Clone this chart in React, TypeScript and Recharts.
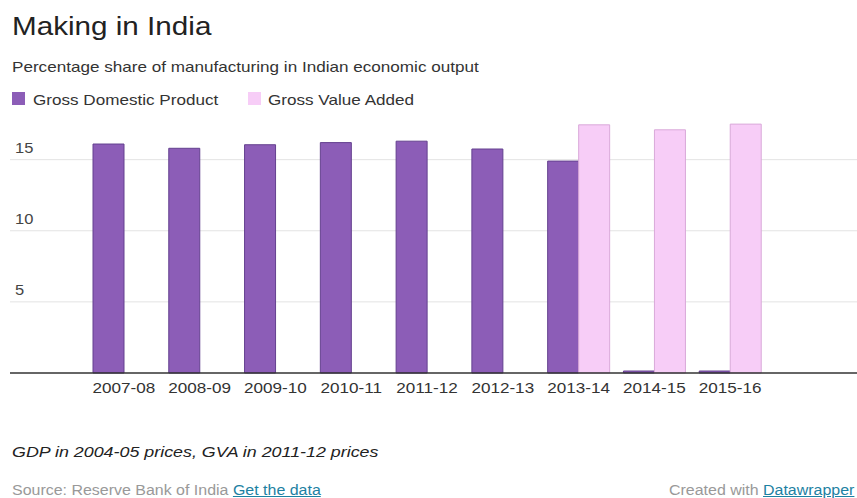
import React from 'react';
import { BarChart, Bar, XAxis, YAxis, CartesianGrid } from 'recharts';

const categories = ['2007-08', '2008-09', '2009-10', '2010-11', '2011-12', '2012-13', '2013-14', '2014-15', '2015-16'];
const gdpValues: (number | null)[] = [16.1, 15.8, 16.05, 16.2, 16.3, 15.75, 14.9, 0, 0];
const gvaValues: (number | null)[] = [null, null, null, null, null, null, 17.45, 17.1, 17.5];
const yTicks = [5, 10, 15];

const title = 'Making in India';
const subtitle = 'Percentage share of manufacturing in Indian economic output';
const gdpLabel = 'Gross Domestic Product';
const gvaLabel = 'Gross Value Added';
const note = 'GDP in 2004-05 prices, GVA in 2011-12 prices';

const data = categories.map((c, i) => ({ year: c, gdp: gdpValues[i], gva: gvaValues[i] }));

const FONT = '"Liberation Sans", Arial, Helvetica, sans-serif';
const SX = 1.14;
const GDP_FILL = '#8c5db7';
const GDP_STROKE = '#64408f';
const GVA_FILL = '#f7cdf7';
const GVA_STROKE = '#d9a9d9';

const txt = (left: number, top: number, size: number, color: string, extra: React.CSSProperties = {}): React.CSSProperties => ({
  position: 'absolute',
  left,
  top,
  fontSize: size,
  lineHeight: 1,
  color,
  whiteSpace: 'nowrap',
  transform: `scaleX(${SX})`,
  transformOrigin: 'left top',
  fontFamily: FONT,
  ...extra,
});

const XTick = (props: any) => {
  const { x, y, payload } = props;
  return (
    <text
      x={x}
      y={y + 12}
      textAnchor="middle"
      fontSize={15}
      fill="#333"
      fontFamily={FONT}
      transform={`translate(${x},0) scale(${SX},1) translate(${-x},0)`}
    >
      {payload.value}
    </text>
  );
};

const YTick = (props: any) => {
  const { x, y, payload } = props;
  const tx = x + 5;
  return (
    <text
      x={tx}
      y={y - 7}
      textAnchor="start"
      fontSize={15}
      fill="#444"
      fontFamily={FONT}
      transform={`translate(${tx},0) scale(1.1,1) translate(${-tx},0)`}
    >
      {payload.value}
    </text>
  );
};

export default function App() {
  return (
    <div style={{ position: 'absolute', left: 0, top: 0, width: 857, height: 498, background: '#fff', overflow: 'hidden', fontFamily: FONT }}>
      <div style={{ position: 'absolute', left: 0, top: 0 }}>
        <BarChart
          width={857}
          height={400}
          data={data}
          margin={{ top: 117, right: 0, bottom: 2, left: 10 }}
          barCategoryGap={7}
          barGap={0}
        >
          <CartesianGrid vertical={false} stroke="#e3e3e3" strokeWidth={1} horizontalValues={yTicks} />
          <XAxis
            dataKey="year"
            height={25}
            padding={{ left: 76, right: 89 }}
            axisLine={{ stroke: '#333', strokeWidth: 1.5 }}
            tickLine={false}
            tick={<XTick />}
            interval={0}
          />
          <YAxis
            mirror
            width={40}
            domain={[0, 18]}
            ticks={yTicks}
            interval={0}
            axisLine={false}
            tickLine={false}
            tickSize={0}
            tickMargin={0}
            tick={<YTick />}
          />
          <Bar dataKey="gdp" fill={GDP_FILL} stroke={GDP_STROKE} strokeWidth={1} minPointSize={2} isAnimationActive={false} />
          <Bar dataKey="gva" fill={GVA_FILL} stroke={GVA_STROKE} strokeWidth={1} isAnimationActive={false} />
        </BarChart>
      </div>

      <div style={txt(12, 13, 26, '#222')}>{title}</div>
      <div style={txt(12, 59, 15, '#333')}>{subtitle}</div>

      <div style={{ position: 'absolute', left: 12, top: 92, width: 13, height: 13, background: GDP_FILL }} />
      <div style={txt(33, 92, 15, '#333')}>{gdpLabel}</div>
      <div style={{ position: 'absolute', left: 248, top: 92, width: 13, height: 13, background: GVA_FILL }} />
      <div style={txt(268, 92, 15, '#333')}>{gvaLabel}</div>

      <div style={txt(12, 444, 15, '#222', { fontStyle: 'italic', transform: 'scaleX(1.19)' })}>{note}</div>

      <div style={txt(12, 483, 14, '#999')}>
        Source: Reserve Bank of India <span style={{ color: '#1d81a2', textDecoration: 'underline' }}>Get the data</span>
      </div>
      <div style={txt(669, 483, 14, '#999')}>
        Created with <span style={{ color: '#1d81a2', textDecoration: 'underline' }}>Datawrapper</span>
      </div>
    </div>
  );
}
